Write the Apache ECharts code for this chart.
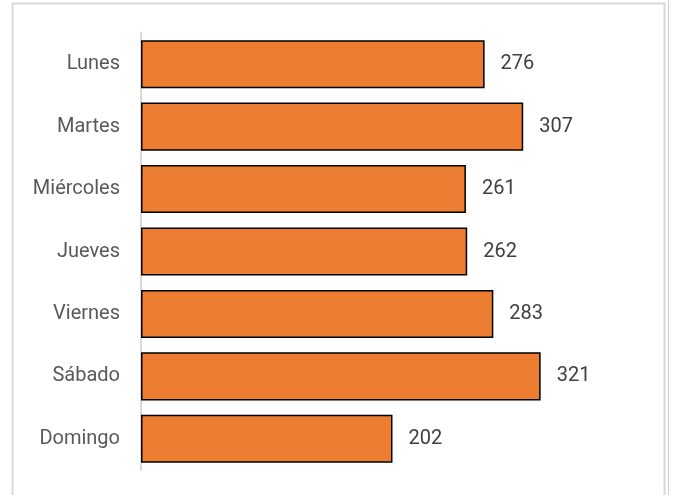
<!DOCTYPE html>
<html><head><meta charset="utf-8">
<script src="https://cdn.jsdelivr.net/npm/echarts@6/dist/echarts.min.js"></script>
<style>html,body{margin:0;padding:0;background:#fff}#c{width:673px;height:495px}</style>
</head><body><div id="c"></div>
<script>
var categories = ['Lunes','Martes','Miércoles','Jueves','Viernes','Sábado','Domingo'];
var values = [276, 307, 261, 262, 283, 321, 202];

var chart = echarts.init(document.getElementById('c'), null, {renderer:'canvas'});
chart.setOption({
  animation: false,
  backgroundColor: '#ffffff',
  graphic: [
    {type:'rect', shape:{x:12.5, y:3.5, width:652, height:500}, style:{fill:'none', stroke:'#d9d9d9', lineWidth:2}, z:-1},
    {type:'line', shape:{x1:668.5, y1:0, x2:668.5, y2:495}, style:{stroke:'#f4c9a8', lineWidth:1}, z:-1}
  ],
  grid: {left:141, top:33, width:498, height:437},
  xAxis: {type:'value', min:0, max:400, show:false},
  yAxis: {
    type:'category', data:categories, inverse:true,
    axisLine:{show:true, lineStyle:{color:'#d9d9d9', width:2}},
    axisTick:{show:false},
    axisLabel:{color:'#595959', fontSize:20, fontFamily:'Roboto, Arial, sans-serif', margin:21}
  },
  series: [{
    type:'bar', data:values, barCategoryGap:'23%',
    itemStyle:{color:'#ED7D31', borderColor:'#000000', borderWidth:1.5},
    label:{show:true, position:'right', distance:16, color:'#404040', fontSize:20, fontFamily:'Roboto, Arial, sans-serif'}
  }]
});
</script></body></html>
